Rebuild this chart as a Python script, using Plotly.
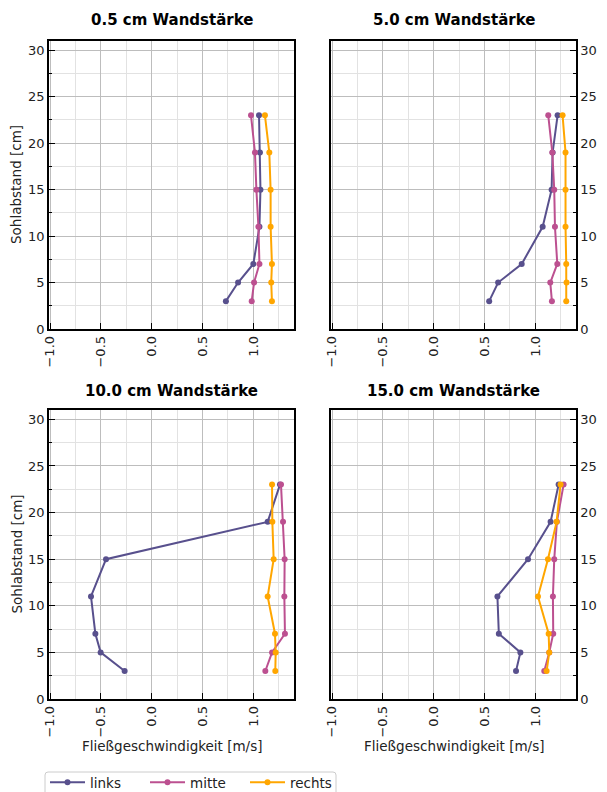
import plotly.graph_objects as go

# Messhöhen über der Sohle [cm]
hoehe = [3, 5, 7, 11, 15, 19, 23]

# Fließgeschwindigkeiten [m/s] je Wandstärke und Messlotrechte
v05_links = [0.73, 0.85, 1.00, 1.06, 1.07, 1.065, 1.056]
v05_mitte = [0.984, 1.007, 1.06, 1.05, 1.03, 1.016, 0.977]
v05_rechts = [1.183, 1.176, 1.183, 1.17, 1.17, 1.157, 1.114]

v50_links = [0.546, 0.634, 0.866, 1.072, 1.16, 1.17, 1.219]
v50_mitte = [1.163, 1.147, 1.216, 1.193, 1.186, 1.167, 1.127]
v50_rechts = [1.304, 1.307, 1.304, 1.297, 1.297, 1.297, 1.268]

v100_links = [-0.266, -0.502, -0.554, -0.597, -0.449, 1.141, 1.262]
v100_mitte = [1.118, 1.184, 1.311, 1.305, 1.308, 1.292, 1.272]
v100_rechts = [1.216, 1.22, 1.213, 1.141, 1.2, 1.187, 1.184]

v150_links = [0.81, 0.853, 0.641, 0.627, 0.928, 1.15, 1.229]
v150_mitte = [1.088, 1.137, 1.176, 1.173, 1.186, 1.212, 1.278]
v150_rechts = [1.111, 1.137, 1.131, 1.026, 1.124, 1.209, 1.248]

titel = ["0.5 cm Wandstärke", "5.0 cm Wandstärke", "10.0 cm Wandstärke", "15.0 cm Wandstärke"]
serien = ["links", "mitte", "rechts"]
farben = ["#58508d", "#bc5090", "#ffa600"]

x_ticks = [-1.0, -0.5, 0.0, 0.5, 1.0]
x_ticktext = ["\u22121.0", "\u22120.5", "0.0", "0.5", "1.0"]
y_ticks = [0, 5, 10, 15, 20, 25, 30]

panels = [
    (v05_links, v05_mitte, v05_rechts),
    (v50_links, v50_mitte, v50_rechts),
    (v100_links, v100_mitte, v100_rechts),
    (v150_links, v150_mitte, v150_rechts),
]

W, H = 607, 792
# Achsenrahmen in Pixeln: (links, rechts, oben, unten)
boxes = [
    (49, 294, 41, 329),
    (331, 576, 41, 329),
    (49, 294, 410, 699),
    (331, 576, 410, 699),
]
title_y = [20, 20, 391, 391]

FONT = "DejaVu Sans"
TXT = "#222222"


def px(x):
    return x / W


def py(y):
    return 1 - y / H


fig = go.Figure()
annotations = []
layout = dict(
    width=W, height=H, autosize=False,
    margin=dict(l=0, r=0, t=0, b=0, autoexpand=False),
    paper_bgcolor="white", plot_bgcolor="white",
    font=dict(family=FONT, size=13, color=TXT),
    showlegend=True,
)

for i, (vals, box) in enumerate(zip(panels, boxes)):
    n = "" if i == 0 else str(i + 1)
    xa, ya = "x" + n, "y" + n
    l, r, t, b = box
    for k, (name, col) in enumerate(zip(serien, farben)):
        fig.add_trace(go.Scatter(
            x=vals[k], y=hoehe, mode="lines+markers", name=name,
            line=dict(color=col, width=2),
            marker=dict(color=col, size=6),
            xaxis=xa, yaxis=ya, showlegend=(i == 0), legendgroup=name,
        ))
    right_side = i % 2 == 1
    layout["xaxis" + n] = dict(
        domain=[px(l), px(r)], anchor=ya, range=[-1.01, 1.40],
        tickvals=x_ticks, ticktext=x_ticktext, tickangle=-90,
        ticks="inside", ticklen=6, tickwidth=1.4, tickcolor="black",
        showline=True, linecolor="black", linewidth=1.5, mirror=True,
        showgrid=True, gridcolor="#bdbdbd", gridwidth=1, zeroline=False,
        minor=dict(dtick=0.25, tick0=0, showgrid=True, gridcolor="#e2e2e2", ticks=""),
        tickfont=dict(family=FONT, size=13, color=TXT),
    )
    layout["yaxis" + n] = dict(
        domain=[py(b), py(t)], anchor=xa, range=[0, 31],
        tickvals=y_ticks, side="right" if right_side else "left",
        ticks="inside", ticklen=6, tickwidth=1.4, tickcolor="black",
        showline=True, linecolor="black", linewidth=1.5, mirror=True,
        showgrid=True, gridcolor="#bdbdbd", gridwidth=1, zeroline=False,
        minor=dict(dtick=2.5, tick0=0, showgrid=True, gridcolor="#e2e2e2",
                   ticks="inside", ticklen=3, tickcolor="black", tickwidth=1),
        tickfont=dict(family=FONT, size=13, color=TXT),
    )
    # Panel-Überschrift
    annotations.append(dict(
        text="<b>" + titel[i] + "</b>", x=px((l + r) / 2), y=py(title_y[i]),
        xref="paper", yref="paper", xanchor="center", yanchor="middle",
        showarrow=False, font=dict(family=FONT, size=15, color="black"),
    ))
    if not right_side:
        annotations.append(dict(
            text="Sohlabstand [cm]", x=px(16), y=py((t + b) / 2),
            xref="paper", yref="paper", xanchor="center", yanchor="middle",
            textangle=-90, showarrow=False, font=dict(family=FONT, size=13.5, color=TXT),
        ))
    if i >= 2:
        annotations.append(dict(
            text="Fließgeschwindigkeit [m/s]", x=px((l + r) / 2), y=py(746),
            xref="paper", yref="paper", xanchor="center", yanchor="middle",
            showarrow=False, font=dict(family=FONT, size=13.5, color=TXT),
        ))

layout["annotations"] = annotations

# Legendenrahmen mit abgerundeten Ecken
lx0, lx1, ly0, ly1, rad = 45, 336, 772, 800, 3
path = (
    f"M {px(lx0 + rad)} {py(ly0)} L {px(lx1 - rad)} {py(ly0)} "
    f"Q {px(lx1)} {py(ly0)} {px(lx1)} {py(ly0 + rad)} "
    f"L {px(lx1)} {py(ly1 - rad)} Q {px(lx1)} {py(ly1)} {px(lx1 - rad)} {py(ly1)} "
    f"L {px(lx0 + rad)} {py(ly1)} Q {px(lx0)} {py(ly1)} {px(lx0)} {py(ly1 - rad)} "
    f"L {px(lx0)} {py(ly0 + rad)} Q {px(lx0)} {py(ly0)} {px(lx0 + rad)} {py(ly0)} Z"
)
layout["shapes"] = [dict(
    type="path", path=path, xref="paper", yref="paper",
    line=dict(color="#cccccc", width=1), fillcolor="white", layer="above",
)]

layout["legend"] = dict(
    orientation="h", x=px(45), xanchor="left", y=py(767), yanchor="top",
    bgcolor="rgba(0,0,0,0)", borderwidth=0,
    font=dict(family=FONT, size=13.5, color=TXT),
    itemwidth=35, entrywidth=50, entrywidthmode="pixels",
)

fig.update_layout(**layout)
fig.write_html("out.html")
